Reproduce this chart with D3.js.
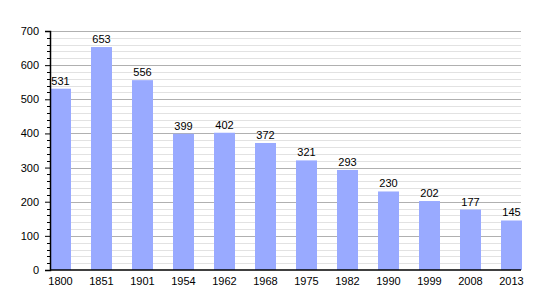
<!DOCTYPE html>
<html>
<head>
<meta charset="utf-8">
<script src="https://cdn.jsdelivr.net/npm/d3@7"></script>
<style>
  body { margin: 0; background: #fff; }
  svg text { font-family: "Liberation Sans", Arial, sans-serif; font-size: 11px; fill: #000; }
</style>
</head>
<body>
<div id="container"></div>
<script>
// Data
const years = ['1800', '1851', '1901', '1954', '1962', '1968', '1975', '1982', '1990', '1999', '2008', '2013'];
const population = [531, 653, 556, 399, 402, 372, 321, 293, 230, 202, 177, 145];
const yTicks = [0, 100, 200, 300, 400, 500, 600, 700];

const width = 550;
const height = 300;
const padding = { top: 31, right: 29, bottom: 30, left: 50 };
const chartArea = {
    width: width - padding.left - padding.right,
    height: height - padding.top - padding.bottom
};

const svg = d3.select('#container').append('svg')
    .attr('width', width)
    .attr('height', height);

const g = svg.append('g')
    .attr('transform', 'translate(' + padding.left + ',' + padding.top + ')');

// Scales
const xScale = d3.scaleBand()
    .domain(years)
    .range([0, chartArea.width + 1])
    .paddingInner(0.488)
    .paddingOuter(0)
    .align(0);

const yScale = d3.scaleLinear()
    .domain([0, 700])
    .range([chartArea.height, 0]);

// Minor grid every 20
const minor = d3.range(20, 701, 20).filter(v => v % 100 !== 0);
g.selectAll('.minor-grid')
    .data(minor)
    .enter()
    .append('line')
    .attr('x1', 0)
    .attr('x2', chartArea.width)
    .attr('y1', d => Math.round(yScale(d)) + 0.5)
    .attr('y2', d => Math.round(yScale(d)) + 0.5)
    .attr('stroke', '#e2e2e2');

// Major grid every 100
g.selectAll('.major-grid')
    .data(yTicks.slice(1))
    .enter()
    .append('line')
    .attr('x1', 0)
    .attr('x2', chartArea.width)
    .attr('y1', d => Math.round(yScale(d)) + 0.5)
    .attr('y2', d => Math.round(yScale(d)) + 0.5)
    .attr('stroke', '#b0b0b0');

// Bars
g.selectAll('rect')
    .data(population)
    .enter()
    .append('rect')
    .attr('x', (d, i) => xScale(years[i]))
    .attr('y', d => yScale(d))
    .attr('width', xScale.bandwidth())
    .attr('height', d => chartArea.height - yScale(d))
    .attr('fill', '#99aaff');

// Value labels
g.selectAll('.value')
    .data(population)
    .enter()
    .append('text')
    .attr('x', (d, i) => xScale(years[i]) + xScale.bandwidth() / 2)
    .attr('y', d => yScale(d) - 4)
    .attr('text-anchor', 'middle')
    .text(d => d);

// Y minor ticks
g.selectAll('.minor-tick')
    .data(minor)
    .enter()
    .append('line')
    .attr('x1', -3)
    .attr('x2', 0)
    .attr('y1', d => Math.round(yScale(d)) + 0.5)
    .attr('y2', d => Math.round(yScale(d)) + 0.5)
    .attr('stroke', '#000');

// Y-Axis
const yAxis = g.append('g')
    .call(d3.axisLeft(yScale).tickValues(yTicks).tickSize(5).tickPadding(6));
yAxis.select('.domain').attr('stroke-width', 1.5);
yAxis.selectAll('text').style('font-size', '11px');

// X-Axis
const xAxis = g.append('g')
    .attr('transform', 'translate(0,' + chartArea.height + ')');
xAxis.append('line')
    .attr('x1', 0)
    .attr('x2', chartArea.width)
    .attr('stroke', '#000')
    .attr('stroke-width', 1.5);
xAxis.selectAll('text')
    .data(years)
    .enter()
    .append('text')
    .attr('x', d => xScale(d) + xScale.bandwidth() / 2)
    .attr('y', 15)
    .attr('text-anchor', 'middle')
    .text(d => d);
</script>
</body>
</html>
